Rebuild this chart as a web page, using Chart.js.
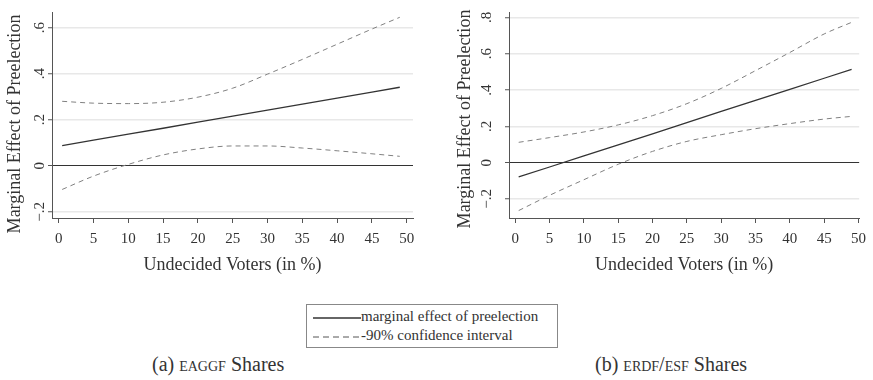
<!DOCTYPE html>
<html>
<head>
<meta charset="utf-8">
<title>Marginal effect of preelection</title>
<script src="https://cdn.jsdelivr.net/npm/chart.js@4/dist/chart.umd.min.js"></script>
<style>
  body { margin: 0; background: #fff; font-family: "Liberation Serif", serif; color: #333; }
  #wrap { position: relative; width: 873px; height: 380px; overflow: hidden; }
  .panel { position: absolute; top: 0; height: 280px; }
  #legend {
    position: absolute; left: 306px; top: 304px; width: 252px; height: 44px;
    border: 1px solid #888; box-sizing: border-box; font-size: 15px; line-height: 19px;
    padding-top: 2px;
  }
  #legend div { white-space: nowrap; height: 19px; }
  #legend svg { vertical-align: middle; margin-left: 6px; }
  .cap { position: absolute; top: 353px; font-size: 20px; white-space: nowrap; }
  .sc { font-variant: small-caps; }
</style>
</head>
<body>
<div id="wrap">
  <div class="panel" style="left:0;width:436px"><canvas id="chartA"></canvas></div>
  <div class="panel" style="left:436px;width:437px"><canvas id="chartB"></canvas></div>
  <div id="legend">
    <div><svg width="48" height="4"><line x1="0" y1="2" x2="48" y2="2" stroke="#333" stroke-width="1.3"/></svg>marginal effect of preelection</div>
    <div><svg width="48" height="4"><line x1="0" y1="2" x2="48" y2="2" stroke="#555" stroke-width="1" stroke-dasharray="6,4"/></svg>-90% confidence interval</div>
  </div>
  <div class="cap" style="left:152px">(a) <span class="sc">eaggf</span> Shares</div>
  <div class="cap" style="left:595px">(b) <span class="sc">erdf/esf</span> Shares</div>
</div>
<script>
const FONT = '"Liberation Serif", serif';

// undecided voters (in %) where the curves were read
const undecided = [0.5, 5, 10, 15, 20, 25, 30, 35, 40, 45, 49];

// (a) EAGGF shares
const effectA = [0.087, 0.111, 0.137, 0.163, 0.190, 0.216, 0.242, 0.268, 0.294, 0.320, 0.341];
const upperA = [0.280, 0.272, 0.270, 0.276, 0.298, 0.337, 0.398, 0.462, 0.528, 0.594, 0.645];
const lowerA = [-0.103, -0.045, 0.006, 0.047, 0.073, 0.086, 0.086, 0.077, 0.065, 0.052, 0.041];

// (b) ERDF/ESF shares
const effectB = [-0.079, -0.024, 0.037, 0.098, 0.159, 0.220, 0.282, 0.343, 0.404, 0.465, 0.514];
const upperB = [0.112, 0.138, 0.169, 0.208, 0.259, 0.325, 0.409, 0.507, 0.607, 0.709, 0.773];
const lowerB = [-0.264, -0.180, -0.094, -0.009, 0.062, 0.117, 0.154, 0.187, 0.215, 0.240, 0.255];

const xTicks = [0, 5, 10, 15, 20, 25, 30, 35, 40, 45, 50];
const yTicksA = [-0.2, 0, 0.2, 0.4, 0.6];
const yTicksB = [-0.2, 0, 0.2, 0.4, 0.6, 0.8];
const yLabel = v => v === 0 ? '0' : (v < 0 ? '\u2212' : '') + String(Math.abs(v)).replace(/^0/, '');

const pts = ys => undecided.map((x, i) => ({ x: x, y: ys[i] }));

// stata style rotated y labels and y title
const yText = {
  id: 'yText',
  afterDraw(chart, args, o) {
    const s = chart.scales.y, ctx = chart.ctx;
    ctx.save();
    ctx.fillStyle = '#333';
    ctx.textAlign = 'center';
    ctx.textBaseline = 'middle';
    ctx.font = '15px ' + FONT;
    s.ticks.forEach(t => {
      ctx.save();
      ctx.translate(o.labelX, s.getPixelForValue(t.value));
      ctx.rotate(-Math.PI / 2);
      ctx.fillText(yLabel(t.value), 0, 0);
      ctx.restore();
    });
    ctx.font = '18px ' + FONT;
    ctx.translate(o.titleX, o.titleY);
    ctx.rotate(-Math.PI / 2);
    ctx.fillText('Marginal Effect of Preelection', 0, 0);
    ctx.restore();
  }
};

function makeChart(id, effect, upper, lower, yTicks, p) {
  const dashed = {
    borderColor: '#808080', borderWidth: 1, borderDash: [5, 4],
    pointRadius: 0, tension: 0.4, cubicInterpolationMode: 'monotone', fill: false
  };
  return new Chart(document.getElementById(id), {
    type: 'line',
    data: {
      datasets: [
        { label: 'marginal effect of preelection', data: pts(effect), borderColor: '#333', borderWidth: 1.3, pointRadius: 0, tension: 0 },
        Object.assign({ label: '90% confidence interval', data: pts(upper) }, dashed),
        Object.assign({ label: '90% confidence interval (lower)', data: pts(lower) }, dashed)
      ]
    },
    options: {
      responsive: true,
      maintainAspectRatio: false,
      animation: false,
      layout: { padding: { left: 0, top: p.top, right: p.right, bottom: 0 } },
      plugins: {
        legend: { display: false },
        tooltip: { enabled: false },
        yText: { labelX: p.labelX, titleX: p.titleX, titleY: p.titleY }
      },
      scales: {
        x: {
          type: 'linear', min: p.xMin, max: p.xMax,
          afterBuildTicks: s => { s.ticks = xTicks.map(v => ({ value: v })); },
          afterFit: s => { s.height = 280 - p.bottom; },
          border: { color: '#555', width: 1 },
          grid: { drawOnChartArea: false, drawTicks: true, tickLength: 5, tickColor: '#555', tickWidth: 1 },
          ticks: { color: '#333', font: { family: FONT, size: 15 }, padding: 7, maxRotation: 0, callback: v => String(v) },
          title: { display: true, text: 'Undecided Voters (in %)', color: '#333', font: { family: FONT, size: 18 }, padding: { top: 0, bottom: 4 } }
        },
        y: {
          min: p.yMin, max: p.yMax,
          afterBuildTicks: s => { s.ticks = yTicks.map(v => ({ value: v })); },
          afterFit: s => { s.width = p.left; },
          border: { color: '#555', width: 1 },
          grid: {
            color: c => c.tick && c.tick.value === 0 ? '#333' : '#e8e8e8',
            lineWidth: c => c.tick && c.tick.value === 0 ? 1 : 1.5,
            drawTicks: true, tickLength: 4, tickColor: '#555', tickWidth: 1
          },
          ticks: { display: false }
        }
      }
    },
    plugins: [yText]
  });
}

makeChart('chartA', effectA, upperA, lowerA, yTicksA,
  { left: 52, right: 23, top: 12, bottom: 218, xMin: -0.96, xMax: 50.9, yMin: -0.227, yMax: 0.668, labelX: 40, titleX: 15, titleY: 124 });
makeChart('chartB', effectB, upperB, lowerB, yTicksB,
  { left: 73, right: 10, top: 12, bottom: 218, xMin: -0.91, xMax: 50.1, yMin: -0.305, yMax: 0.83, labelX: 51, titleX: 29, titleY: 119 });
</script>
</body>
</html>
